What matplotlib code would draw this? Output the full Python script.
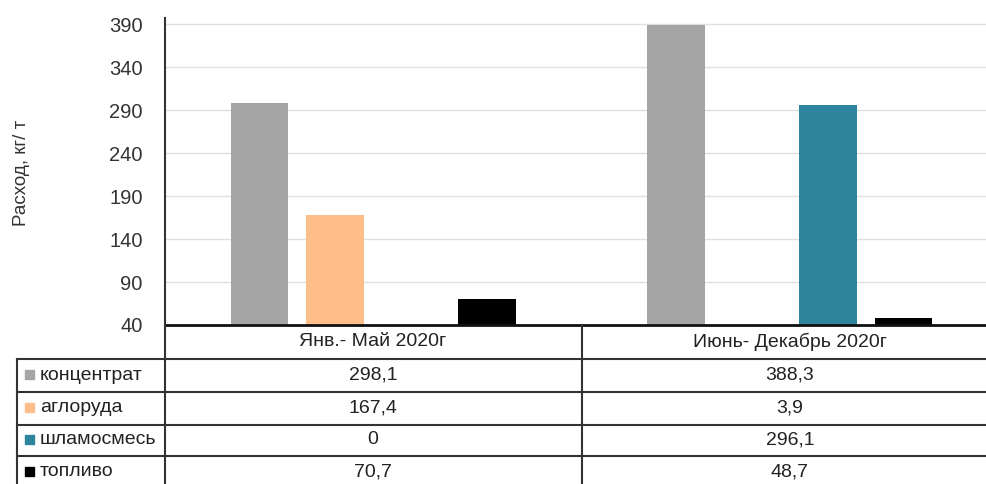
import matplotlib.pyplot as plt
from matplotlib.lines import Line2D
from matplotlib.patches import Rectangle
import numpy as np

plt.rcParams['font.family'] = ['Liberation Sans', 'DejaVu Sans']

# data
periods = ['Янв.- Май 2020г', 'Июнь- Декабрь 2020г']
series = ['концентрат', 'аглоруда', 'шламосмесь', 'топливо']
concentrate = [298.1, 388.3]
agloruda = [167.4, 3.9]
shlamosmes = [0, 296.1]
toplivo = [70.7, 48.7]
values = [concentrate, agloruda, shlamosmes, toplivo]
colors = ['#A5A5A5', '#FDBE8A', '#2E849C', '#000000']
yticks = [40, 90, 140, 190, 240, 290, 340, 390]

W, H = 987, 484
fig = plt.figure(figsize=(W / 100, H / 100), dpi=100)


def fx(px):
    return px / W


def fy(py):
    return 1 - py / H


ax_left, ax_right, ax_top, ax_bot = 165, 998, 18, 325
ax = fig.add_axes([fx(ax_left), fy(ax_bot), fx(ax_right - ax_left), (ax_bot - ax_top) / H])

x = np.arange(len(periods))
pitch = 0.182
width = 0.139
for i, (vals, c) in enumerate(zip(values, colors)):
    ax.bar(x + (i - 1.5) * pitch, np.array(vals) - 40, width, bottom=40, color=c, zorder=3)

ax.set_xlim(-0.5, 1.5)
ax.set_ylim(40, 397)
ax.set_yticks(yticks)
ax.set_xticks([])
ax.yaxis.grid(True, color='#E0E0E0', linewidth=1.0, zorder=0)
ax.tick_params(axis='y', length=0, pad=16, labelsize=14.5, colors='#333333')
for s in ['top', 'right', 'bottom']:
    ax.spines[s].set_visible(False)
ax.spines['left'].set_color('#333333')
ax.spines['left'].set_linewidth(1.5)
ax.axhline(40, color='#111111', linewidth=2, zorder=4, clip_on=False)

fig.text(fx(22), fy(173), 'Расход, кг/ т', rotation=90, ha='center', va='center',
         fontsize=13.5, color='#333333')

# data table under the chart
lc = '#333333'
row_lines = [359, 392, 425, 456]
for yy in row_lines:
    fig.add_artist(Line2D([fx(17), 1], [fy(yy), fy(yy)], color=lc, linewidth=1.5))
fig.add_artist(Line2D([fx(17), fx(17)], [fy(359), 0], color=lc, linewidth=1.5))
fig.add_artist(Line2D([fx(165), fx(165)], [fy(325), 0], color=lc, linewidth=1.5))
fig.add_artist(Line2D([fx(582), fx(582)], [fy(325), 0], color=lc, linewidth=1.5))

col_centers = [373, 790]
for cx, p in zip(col_centers, periods):
    fig.text(fx(cx), fy(342), p, ha='center', va='center', fontsize=14, color='#222222')

row_centers = [375, 408, 440, 472]
for ry, name, vals, c in zip(row_centers, series, values, colors):
    fig.add_artist(Rectangle((fx(25), fy(ry + 4)), fx(9), 9 / H, color=c))
    fig.text(fx(40), fy(ry), name, ha='left', va='center', fontsize=14, color='#222222')
    for cx, v in zip(col_centers, vals):
        label = ('%g' % v).replace('.', ',')
        fig.text(fx(cx), fy(ry), label, ha='center', va='center', fontsize=14, color='#222222')

fig.savefig('out.png', dpi=100)
